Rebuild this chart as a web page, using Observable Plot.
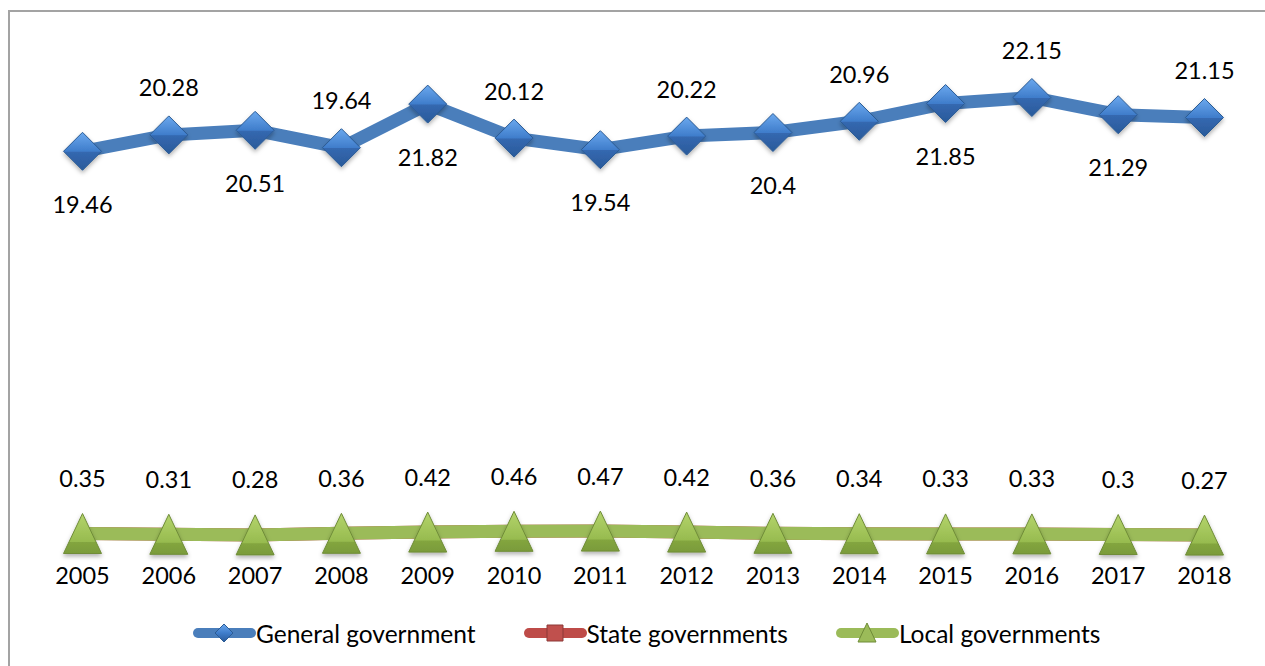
<!DOCTYPE html>
<html>
<head>
<meta charset="utf-8">
<script src="https://cdn.jsdelivr.net/npm/d3@7"></script>
<script src="https://cdn.jsdelivr.net/npm/@observablehq/plot@0.6"></script>
<style>
  html, body { margin: 0; padding: 0; background: #fff; }
  body { width: 1265px; height: 666px; overflow: hidden; position: relative; font-family: Lato, "Liberation Sans", sans-serif; }
  #frame { position: absolute; left: 8px; top: 10px; width: 1300px; height: 700px; border: 2px solid #a3a3a3; box-sizing: border-box; }
  #chart { position: absolute; left: 0; top: 0; }
  #chart g[aria-label="dot"] path { filter: url(#mshadow); }
  #legend { position: absolute; left: 193px; top: 612px; height: 42px; display: flex; align-items: center; gap: 48px; font-size: 24.5px; color: #000; }
  .item { display: flex; align-items: center; }
  .item svg { display: block; }
</style>
</head>
<body>
<div id="frame"></div>
<div id="chart"></div>
<div id="legend"></div>
<script>
const years = [2005, 2006, 2007, 2008, 2009, 2010, 2011, 2012, 2013, 2014, 2015, 2016, 2017, 2018];
const general = [19.46, 20.28, 20.51, 19.64, 21.82, 20.12, 19.54, 20.22, 20.4, 20.96, 21.85, 22.15, 21.29, 21.15];
const state = [0.35, 0.31, 0.28, 0.36, 0.42, 0.46, 0.47, 0.42, 0.36, 0.34, 0.33, 0.33, 0.3, 0.27];
const local = [0.35, 0.31, 0.28, 0.36, 0.42, 0.46, 0.47, 0.42, 0.36, 0.34, 0.33, 0.33, 0.3, 0.27];
const seriesNames = ["General government", "State governments", "Local governments"];
const colors = ["#4A7EBB", "#BE4B48", "#9BBB59"];

const rows = years.map((year, i) => ({year, i, general: general[i], state: state[i], local: local[i]}));

const diamondSym = {draw(ctx) { const h = 19; ctx.moveTo(0, -h); ctx.lineTo(h, 0); ctx.lineTo(0, h); ctx.lineTo(-h, 0); ctx.closePath(); }};
const triSym = {draw(ctx) { const w = 19, h = 20; ctx.moveTo(0, -h); ctx.lineTo(w, h); ctx.lineTo(-w, h); ctx.closePath(); }};

const defsMark = () => {
  const g = d3.create("svg:g");
  const defs = g.append("defs");
  const gb = defs.append("linearGradient").attr("id", "gBlue").attr("x1", 0).attr("y1", 0).attr("x2", 0).attr("y2", 1);
  gb.append("stop").attr("offset", "0%").attr("stop-color", "#6BA8EE");
  gb.append("stop").attr("offset", "50%").attr("stop-color", "#3F7DCB");
  gb.append("stop").attr("offset", "52%").attr("stop-color", "#3468B0");
  gb.append("stop").attr("offset", "100%").attr("stop-color", "#2A5A9A");
  const gg = defs.append("linearGradient").attr("id", "gGreen").attr("x1", 0).attr("y1", 0).attr("x2", 0).attr("y2", 1);
  gg.append("stop").attr("offset", "0%").attr("stop-color", "#B4D46C");
  gg.append("stop").attr("offset", "70%").attr("stop-color", "#97BB4F");
  gg.append("stop").attr("offset", "72%").attr("stop-color", "#83A53F");
  gg.append("stop").attr("offset", "100%").attr("stop-color", "#7A9B3A");
  const f = defs.append("filter").attr("id", "mshadow").attr("x", "-30%").attr("y", "-30%").attr("width", "160%").attr("height", "170%");
  f.append("feDropShadow").attr("dx", 0).attr("dy", 2.5).attr("stdDeviation", 2).attr("flood-color", "#000").attr("flood-opacity", 0.3);
  return g.node();
};

const fmt = v => String(v);

const plot = Plot.plot({
  width: 1265,
  height: 600,
  marginLeft: 82,
  marginRight: 61,
  marginTop: 40,
  marginBottom: 60,
  x: {domain: [2005, 2018], axis: null},
  y: {domain: [0, 25], axis: null},
  style: {fontFamily: "Lato, 'Liberation Sans', sans-serif", fontSize: "23.5px", background: "transparent", color: "#000"},
  marks: [
    defsMark,
    Plot.line(rows, {x: "year", y: "general", stroke: colors[0], strokeWidth: 13, strokeLinejoin: "round"}),
    Plot.line(rows, {x: "year", y: "state", stroke: colors[1], strokeWidth: 13}),
    Plot.line(rows, {x: "year", y: "local", stroke: colors[2], strokeWidth: 13}),
    Plot.dot(rows, {x: "year", y: "general", symbol: diamondSym, fill: "url(#gBlue)", stroke: "#2B5B94", strokeWidth: 1}),
    Plot.dot(rows, {x: "year", y: "local", symbol: triSym, fill: "url(#gGreen)", stroke: "#6F8C38", strokeWidth: 1}),
    Plot.text(rows.filter(d => d.i % 2 === 0), {x: "year", y: "general", text: d => fmt(d.general), dy: 54, fill: "#000"}),
    Plot.text(rows.filter(d => d.i % 2 === 1), {x: "year", y: "general", text: d => fmt(d.general), dy: -46, fill: "#000"}),
    Plot.text(rows, {x: "year", y: "local", text: d => fmt(d.local), dy: -54, fill: "#000"}),
    Plot.axisX({ticks: years, tickFormat: d => String(d), tickSize: 0, tickPadding: 27, fontSize: 23.5, fill: "#000", label: null})
  ]
});
document.getElementById("chart").appendChild(plot);

// legend
const legend = d3.select("#legend");
const markerPaths = [
  "M31,1 L40,10 L31,19 L22,10 Z",
  "M23,2 L39,2 L39,18 L23,18 Z",
  "M31,0 L40,19 L22,19 Z"
];
const markerFills = ["url(#lgBlue)", "#C0504D", "#9BBB59"];
const markerStrokes = ["#2B5B94", "#8C3836", "#6F8C38"];
seriesNames.forEach((name, k) => {
  const it = legend.append("div").attr("class", "item");
  const s = it.append("svg").attr("width", 63).attr("height", 20);
  if (k === 0) {
    const lg = s.append("defs").append("linearGradient").attr("id", "lgBlue").attr("x1", 0).attr("y1", 0).attr("x2", 0).attr("y2", 1);
    lg.append("stop").attr("offset", "0%").attr("stop-color", "#6BA8EE");
    lg.append("stop").attr("offset", "50%").attr("stop-color", "#3F7DCB");
    lg.append("stop").attr("offset", "100%").attr("stop-color", "#2A5A9A");
  }
  s.append("line").attr("x1", 5).attr("x2", 58).attr("y1", 10).attr("y2", 10)
    .attr("stroke", colors[k]).attr("stroke-width", 10).attr("stroke-linecap", "round");
  s.append("path").attr("d", markerPaths[k]).attr("fill", markerFills[k]).attr("stroke", markerStrokes[k]).attr("stroke-width", 1);
  it.append("span").text(name);
});
</script>
</body>
</html>
